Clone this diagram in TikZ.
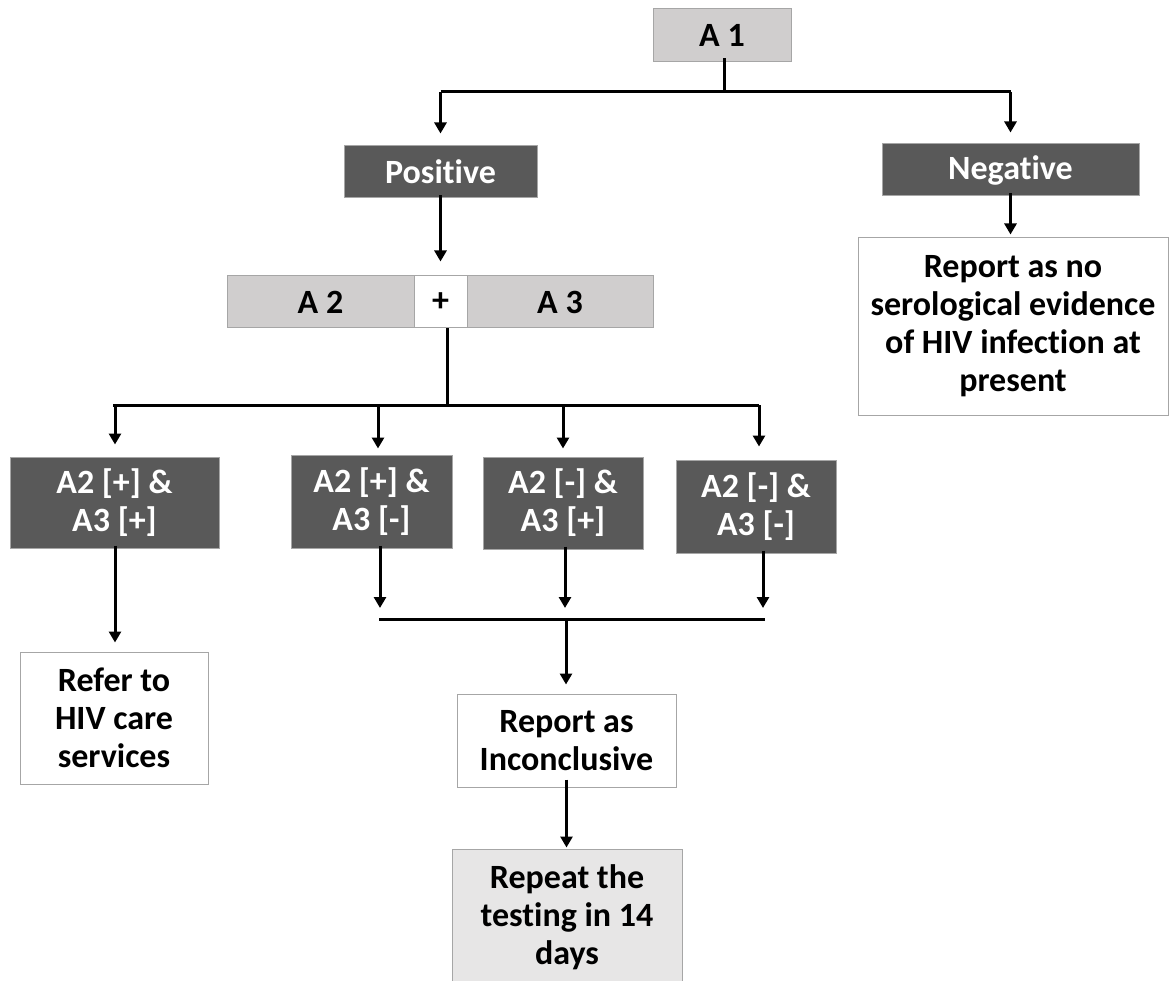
\documentclass[tikz,border=0pt]{standalone}
\usepackage{fontspec}
\setmainfont[Ligatures=NoCommon]{Carlito}
\usetikzlibrary{arrows.meta,calc}
\definecolor{lightbox}{HTML}{D0CECE}
\definecolor{darkbox}{HTML}{595959}
\definecolor{palebox}{HTML}{E7E6E6}
\definecolor{edgegray}{HTML}{A6A6A6}
\tikzset{
  box/.style={draw=edgegray, line width=1pt, inner sep=0pt, align=center,
    font=\bfseries\fontsize{34}{38}\selectfont},
  lightnode/.style={box, fill=lightbox, text=black},
  darknode/.style={box, fill=darkbox, text=white},
  whitenode/.style={box, fill=white, text=black},
  palenode/.style={box, fill=palebox, text=black},
  conn/.style={line width=3pt, draw=black},
  arr/.style={conn, -{Triangle[width=12pt,length=11pt]}},
}
\begin{document}
\begin{tikzpicture}[x=1pt,y=-1pt]
\useasboundingbox (0,0) rectangle (1169,981);
% nodes
\node[lightnode, minimum width=138, minimum height=53] (a1) at (722,35.5) {A 1};
\node[darknode, minimum width=193, minimum height=52] (pos) at (440.5,172) {Positive};
\node[darknode, minimum width=257, minimum height=52] (neg) at (1010.5,170) {Negative};
\node[lightnode, minimum width=187, minimum height=52] (a2) at (320.5,302) {A 2};
\node[whitenode, minimum width=53, minimum height=52] (plus) at (440.5,302) {+};
\node[lightnode, minimum width=186, minimum height=52] (a3) at (560,302) {A 3};
\node[darknode, minimum width=209, minimum height=91] (b1) at (114.5,502.5) {A2 [+] \&\\A3 [+]};
\node[darknode, minimum width=161, minimum height=93] (b2) at (371.5,501.5) {A2 [+] \&\\A3 [-]};
\node[darknode, minimum width=160, minimum height=92] (b3) at (563,503) {A2 [-] \&\\A3 [+]};
\node[darknode, minimum width=160, minimum height=93] (b4) at (756,506.5) {A2 [-] \&\\A3 [-]};
\node[whitenode, minimum width=188, minimum height=132] (refer) at (114,718) {Refer to\\HIV care\\services};
\node[whitenode, minimum width=219, minimum height=93] (incon) at (566.5,740.5) {Report as\\Inconclusive};
\node[palenode, minimum width=230, minimum height=136] (rep) at (567,917) {Repeat the\\testing in 14\\days};
\node[whitenode, minimum width=310, minimum height=177] (noev) at (1013,326.5) {Report as no\\serological evidence\\of HIV infection at\\present};
% junctions
\coordinate (j1) at (724,92);
\coordinate (j2) at (447,405);
\coordinate (j3) at (566,619);
% A1 split
\draw[conn] ([xshift=2pt,yshift=4pt]a1.south) -- (j1);
\draw[conn] (pos.north |- j1) -- (neg.north |- j1);
\draw[arr, shorten >=12pt] (pos.north |- j1) -- (pos.north);
\draw[arr, shorten >=11pt] (neg.north |- j1) -- (neg.north);
% positive to A2/A3
\draw[arr, shorten >=14pt] ([yshift=3pt]pos.south) -- (pos.south |- plus.north);
\draw[arr, shorten >=3pt] ([yshift=3pt]neg.south) -- (neg.south |- noev.north);
% plus to four outcomes
\draw[conn] ([xshift=6.5pt]plus.south) -- (j2);
\draw[conn] ([xshift=-1.5pt]b1.north |- j2) -- ([xshift=3pt]b4.north |- j2);
\draw[arr, shorten >=12pt] ([xshift=0.5pt]b1.north |- j2) -- ([xshift=0.5pt]b1.north);
\draw[arr, shorten >=6pt] ([xshift=6.5pt]b2.north |- j2) -- ([xshift=6.5pt]b2.north);
\draw[arr, shorten >=8pt] (b3.north |- j2) -- (b3.north);
\draw[arr, shorten >=13pt] ([xshift=3pt]b4.north |- j2) -- ([xshift=3pt]b4.north);
% outcome 1
\draw[arr, shorten >=9pt] ([xshift=0.5pt,yshift=3pt]b1.south) -- ([xshift=0.5pt]b1.south |- refer.north);
% outcomes 2-4 to inconclusive
\draw[arr, shorten >=11pt] ([xshift=8.5pt,yshift=3pt]b2.south) -- ([xshift=8.5pt]b2.south |- j3);
\draw[arr, shorten >=11pt] ([xshift=2pt,yshift=3pt]b3.south) -- ([xshift=2pt]b3.south |- j3);
\draw[arr, shorten >=11pt] ([xshift=7pt,yshift=3pt]b4.south) -- ([xshift=7pt]b4.south |- j3);
\draw[conn] ([xshift=7.5pt]b2.south |- j3) -- ([xshift=9pt]b4.south |- j3);
\draw[arr, shorten >=9pt] (j3) -- (incon.north -| j3);
\draw[arr, shorten >=1pt] ([yshift=8pt]incon.south) -- (incon.south |- rep.north);
\end{tikzpicture}
\end{document}
